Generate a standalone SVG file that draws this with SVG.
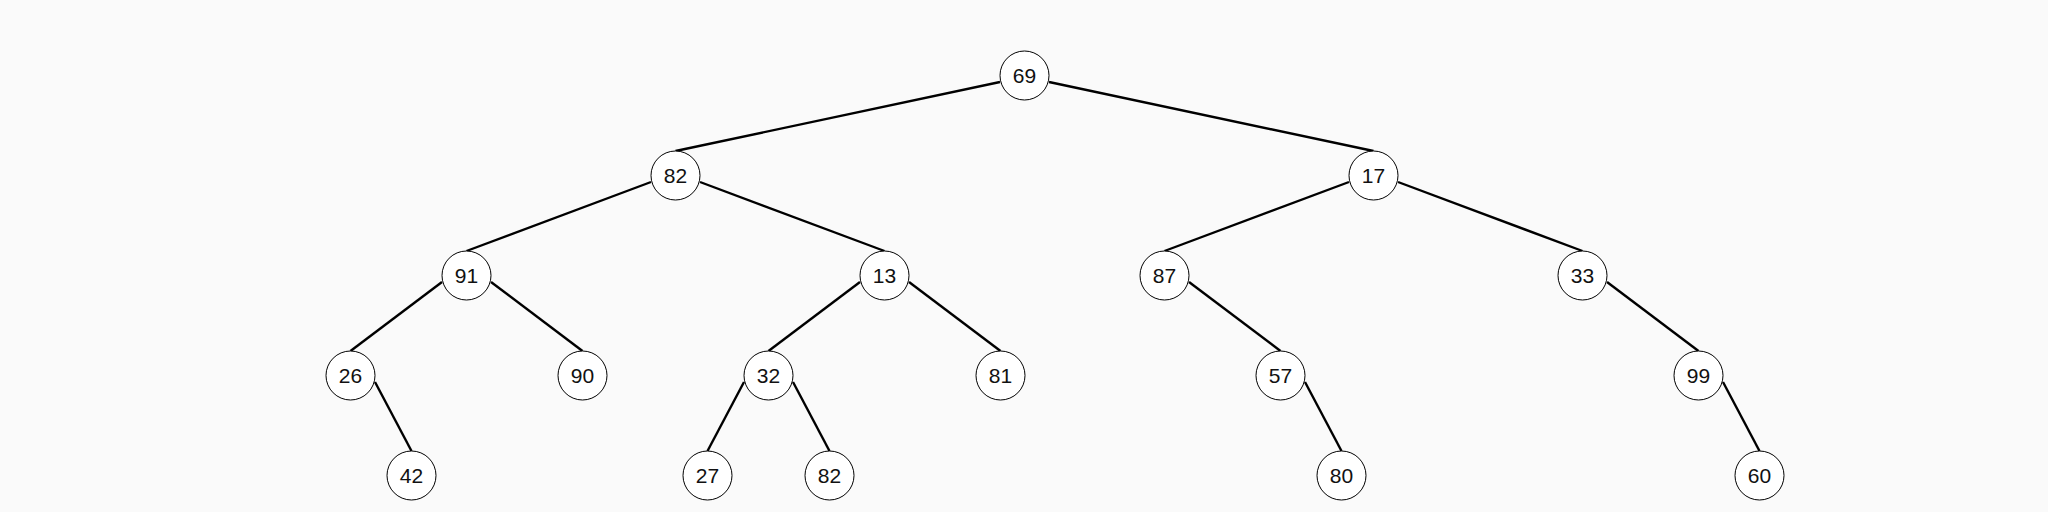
<svg xmlns="http://www.w3.org/2000/svg" width="2048" height="512" viewBox="0 0 2048 512">
<style>
.edge{stroke:#000;stroke-width:2.4;fill:none;stroke-linecap:butt}
.node circle{fill:#fff;stroke:#000;stroke-width:1}
.node text{font-family:"Liberation Sans",Arial,sans-serif;font-size:21px;fill:#111;text-anchor:middle}
</style>
<rect x="0" y="0" width="2048" height="512" fill="#fafafa"/>
<g id="connectors">
<line class="edge" x1="1000" y1="82" x2="675.5" y2="151"/>
<line class="edge" x1="1049" y1="82" x2="1373.5" y2="151"/>
<line class="edge" x1="651" y1="182" x2="466.5" y2="251"/>
<line class="edge" x1="700" y1="182" x2="884.5" y2="251"/>
<line class="edge" x1="1349" y1="182" x2="1164.5" y2="251"/>
<line class="edge" x1="1398" y1="182" x2="1582.5" y2="251"/>
<line class="edge" x1="442" y1="282" x2="350.5" y2="351"/>
<line class="edge" x1="491" y1="282" x2="582.5" y2="351"/>
<line class="edge" x1="860" y1="282" x2="768.5" y2="351"/>
<line class="edge" x1="909" y1="282" x2="1000.5" y2="351"/>
<line class="edge" x1="1189" y1="282" x2="1280.5" y2="351"/>
<line class="edge" x1="1607" y1="282" x2="1698.5" y2="351"/>
<line class="edge" x1="375" y1="382" x2="411.5" y2="451"/>
<line class="edge" x1="744" y1="382" x2="707.5" y2="451"/>
<line class="edge" x1="793" y1="382" x2="829.5" y2="451"/>
<line class="edge" x1="1305" y1="382" x2="1341.5" y2="451"/>
<line class="edge" x1="1723" y1="382" x2="1759.5" y2="451"/>
</g>
<g id="n69" class="node"><circle cx="1024.5" cy="75.5" r="24.5"/><text x="1024.5" y="83">69</text></g>
<g id="n82a" class="node"><circle cx="675.5" cy="175.5" r="24.5"/><text x="675.5" y="183">82</text></g>
<g id="n17" class="node"><circle cx="1373.5" cy="175.5" r="24.5"/><text x="1373.5" y="183">17</text></g>
<g id="n91" class="node"><circle cx="466.5" cy="275.5" r="24.5"/><text x="466.5" y="283">91</text></g>
<g id="n13" class="node"><circle cx="884.5" cy="275.5" r="24.5"/><text x="884.5" y="283">13</text></g>
<g id="n87" class="node"><circle cx="1164.5" cy="275.5" r="24.5"/><text x="1164.5" y="283">87</text></g>
<g id="n33" class="node"><circle cx="1582.5" cy="275.5" r="24.5"/><text x="1582.5" y="283">33</text></g>
<g id="n26" class="node"><circle cx="350.5" cy="375.5" r="24.5"/><text x="350.5" y="383">26</text></g>
<g id="n90" class="node"><circle cx="582.5" cy="375.5" r="24.5"/><text x="582.5" y="383">90</text></g>
<g id="n32" class="node"><circle cx="768.5" cy="375.5" r="24.5"/><text x="768.5" y="383">32</text></g>
<g id="n81" class="node"><circle cx="1000.5" cy="375.5" r="24.5"/><text x="1000.5" y="383">81</text></g>
<g id="n57" class="node"><circle cx="1280.5" cy="375.5" r="24.5"/><text x="1280.5" y="383">57</text></g>
<g id="n99" class="node"><circle cx="1698.5" cy="375.5" r="24.5"/><text x="1698.5" y="383">99</text></g>
<g id="n42" class="node"><circle cx="411.5" cy="475.5" r="24.5"/><text x="411.5" y="483">42</text></g>
<g id="n27" class="node"><circle cx="707.5" cy="475.5" r="24.5"/><text x="707.5" y="483">27</text></g>
<g id="n82b" class="node"><circle cx="829.5" cy="475.5" r="24.5"/><text x="829.5" y="483">82</text></g>
<g id="n80" class="node"><circle cx="1341.5" cy="475.5" r="24.5"/><text x="1341.5" y="483">80</text></g>
<g id="n60" class="node"><circle cx="1759.5" cy="475.5" r="24.5"/><text x="1759.5" y="483">60</text></g>
</svg>
